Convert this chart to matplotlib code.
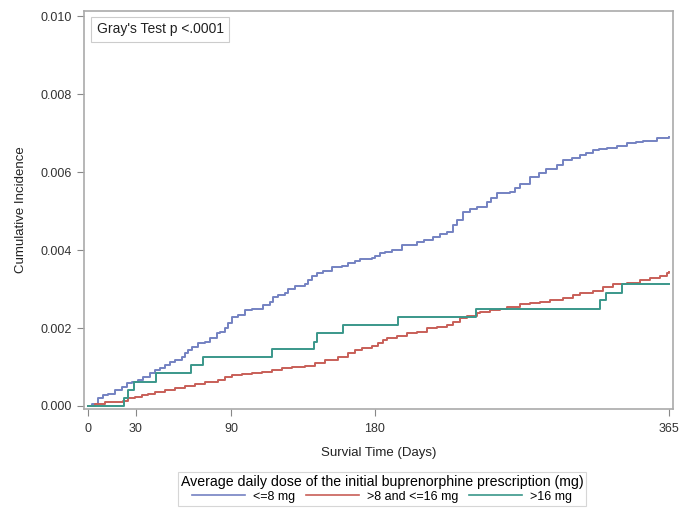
import numpy as np
import matplotlib.pyplot as plt

plt.rcParams['font.family'] = ['Liberation Sans', 'DejaVu Sans']

# Step points (day, cumulative incidence)
days_low = [0, 2.3, 6.5, 9.6, 12.8, 17, 21.2, 24.3, 27.4, 31.6, 34.8, 38.9, 42.1, 45.2, 48.4,
            51.5, 54.6, 58.8, 60.9, 63, 65.1, 69.3, 73.5, 76.6, 80.8, 82.9, 86.1, 88.1, 90.2,
            94.4, 98.6, 102.8, 107, 110.1, 114.3, 116.4, 119.5, 123.7, 125.8, 130, 136.3,
            138.4, 140.5, 143.6, 147.8, 153, 159.3, 163.5, 167.7, 170.9, 178.2, 180.3, 183.4,
            186.6, 190.8, 197, 206.4, 211, 216.9, 221, 225.3, 229.5, 232, 235.7, 240, 244.1,
            250.4, 253, 256.7, 265, 268, 271.4, 277.6, 283, 288, 294.4, 298.6, 304, 309, 313,
            317.4, 321, 325.8, 332, 338.4, 344, 348.9, 357.2, 365]
inc_low = [0, 0.00005, 0.0002, 0.00028, 0.00032, 0.00041, 0.00048, 0.00058, 0.00062, 0.00067,
           0.00075, 0.00084, 0.00092, 0.00097, 0.00105, 0.00114, 0.00118, 0.00126, 0.00135,
           0.00144, 0.00152, 0.00161, 0.00165, 0.00174, 0.00186, 0.00191, 0.00199, 0.00212,
           0.00229, 0.00233, 0.00246, 0.0025, 0.0025, 0.00259, 0.00267, 0.0028, 0.00285,
           0.00289, 0.003, 0.00308, 0.00312, 0.00323, 0.00334, 0.00342, 0.00346, 0.00357,
           0.0036, 0.00368, 0.00372, 0.00377, 0.00379, 0.00385, 0.00392, 0.00396, 0.004,
           0.00413, 0.00421, 0.00426, 0.00434, 0.0044, 0.00447, 0.00464, 0.00478, 0.00498,
           0.00504, 0.00511, 0.00524, 0.00533, 0.00545, 0.0055, 0.0056, 0.0057, 0.00587,
           0.00598, 0.00609, 0.00618, 0.0063, 0.00636, 0.00643, 0.0065, 0.00656, 0.00659,
           0.00662, 0.00668, 0.00674, 0.00677, 0.0068, 0.00688, 0.00691]

days_mid = [0, 4.4, 10.7, 17, 22.2, 25.3, 29.5, 33.7, 37.9, 42.1, 48.4, 54.6, 60.9, 67.2, 73.5,
            81.9, 86.1, 90.2, 96.5, 102.8, 109.1, 115.4, 121.7, 127.9, 136.3, 142.6, 148.9,
            157.2, 163.5, 167.7, 171.9, 178.2, 182.4, 185.5, 187.6, 193.9, 200.2, 206.5, 212.7,
            219, 225.3, 229.5, 233.7, 237.9, 244.1, 246.2, 252.5, 258.8, 263, 271.4, 277.6,
            283.9, 290.2, 298.6, 304.8, 309, 317.4, 323.7, 330, 338.4, 346.7, 353, 359.3,
            363.5, 365.2]
inc_mid = [0, 0.00005, 0.00009, 0.00011, 0.00014, 0.0002, 0.00024, 0.00028, 0.00032, 0.00037,
           0.00041, 0.00045, 0.0005, 0.00056, 0.00062, 0.00067, 0.00074, 0.0008, 0.00082,
           0.00085, 0.00088, 0.00092, 0.00097, 0.00099, 0.00103, 0.00109, 0.00118, 0.00125,
           0.00135, 0.00144, 0.00148, 0.00154, 0.00161, 0.00168, 0.00174, 0.0018, 0.00186,
           0.00191, 0.00199, 0.00203, 0.00208, 0.00216, 0.00225, 0.00231, 0.00238, 0.00242,
           0.00246, 0.00248, 0.00255, 0.00262, 0.00265, 0.00267, 0.00272, 0.00276, 0.00285,
           0.00291, 0.00296, 0.00306, 0.00313, 0.00316, 0.00323, 0.00327, 0.00333, 0.0034,
           0.00344]

days_high = [0, 22.8, 24.9, 29.1, 42.5, 64.7, 72.4, 115.4, 142.2, 143.6, 160, 194.9, 244,
             321.9, 325.7, 335.2, 365]
inc_high = [0, 0.0002, 0.00041, 0.00062, 0.00084, 0.00105, 0.00126, 0.00145, 0.00165, 0.00186,
            0.00208, 0.00229, 0.00248, 0.00272, 0.00291, 0.00312, 0.00312]

groups = ['<=8 mg', '>8 and <=16 mg', '>16 mg']
colors = ['#7482c2', '#c85f58', '#3a978a']
xticks = [0, 30, 90, 180, 365]
yticks = [0.0, 0.002, 0.004, 0.006, 0.008, 0.010]

fig = plt.figure(figsize=(6.81, 5.08), dpi=100)
ax = fig.add_axes([0.1233, 0.1949, 0.865, 0.7834])

series = [(days_low, inc_low), (days_mid, inc_mid), (days_high, inc_high)]
for (d, v), lab, c in zip(series, groups, colors):
    ax.plot(d, v, drawstyle='steps-post', color=c, lw=1.4, label=lab)

ax.set_xlim(-2.5, 367.5)
ax.set_ylim(-0.000077, 0.01013)
ax.set_xticks(xticks)
ax.set_yticks(yticks)
ax.set_yticklabels(['%.3f' % t for t in yticks])
ax.tick_params(labelsize=9, color='#888888', length=5, labelcolor='#333333')
ax.tick_params(axis='x', pad=5)
for s in ax.spines.values():
    s.set_color('#aaaaaa')
    s.set_linewidth(1.2)

ax.set_xlabel('Survial Time (Days)', fontsize=9.5, color='#222222', labelpad=9)
ax.set_ylabel('Cumulative Incidence', fontsize=9.5, color='#222222', labelpad=10)

ax.text(0.022, 0.972, "Gray's Test p <.0001", transform=ax.transAxes, fontsize=10,
        va='top', ha='left', color='#222222',
        bbox=dict(boxstyle='square,pad=0.4', fc='white', ec='#cccccc', lw=0.8))

leg = fig.legend(loc='center', bbox_to_anchor=(0.561, 0.0374), ncol=3, fontsize=9,
                 title='Average daily dose of the initial buprenorphine prescription (mg)',
                 title_fontsize=10.2, frameon=True, fancybox=False, edgecolor='#cccccc',
                 handlelength=4.2, columnspacing=0.9, handletextpad=0.65,
                 borderpad=0.25, labelspacing=0.1)
leg.get_frame().set_linewidth(0.8)
for h in leg.legend_handles:
    h.set_linewidth(1.2)

plt.savefig('out.png', dpi=100)
plt.close()
